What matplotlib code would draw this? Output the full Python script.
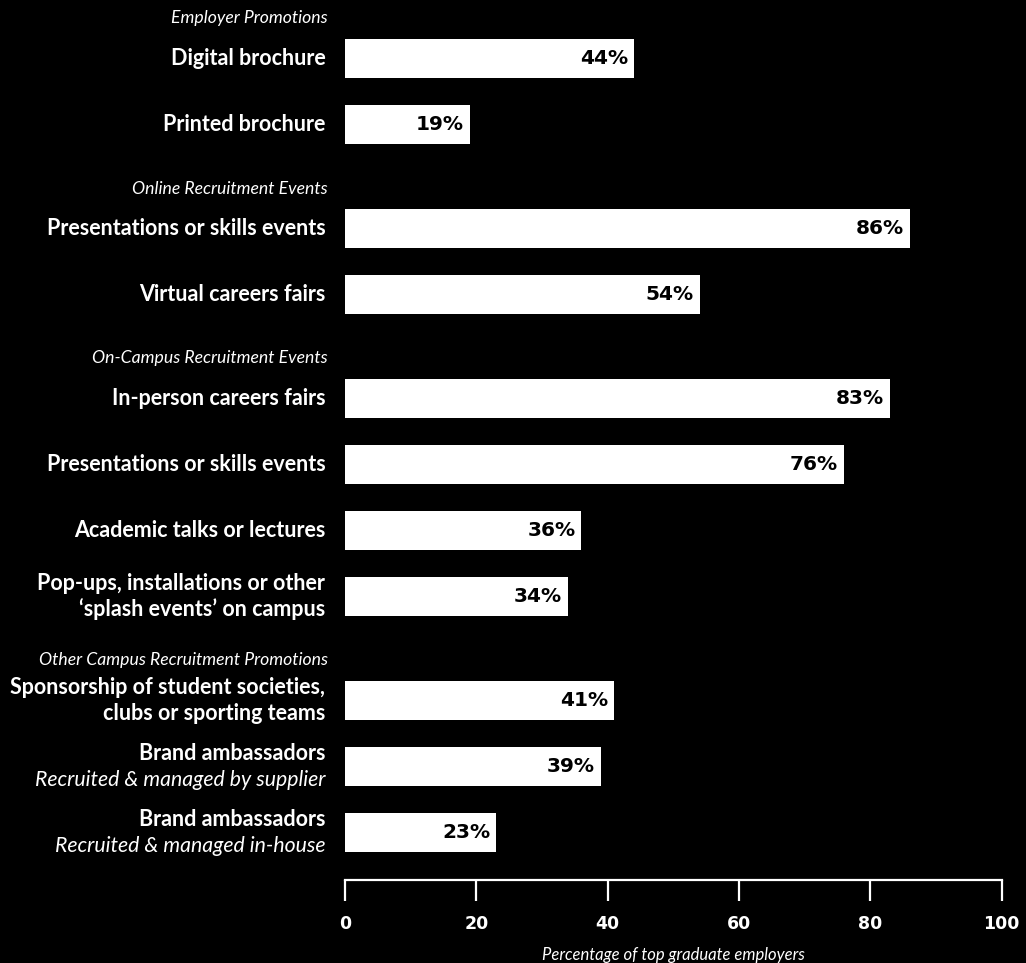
import matplotlib.pyplot as plt

# survey results, % of top graduate employers
groups = [
    "Employer Promotions",
    "Online Recruitment Events",
    "On-Campus Recruitment Events",
    "Other Campus Recruitment Promotions",
]
labels = [
    ["Digital brochure", "Printed brochure"],
    ["Presentations or skills events", "Virtual careers fairs"],
    ["In-person careers fairs", "Presentations or skills events",
     "Academic talks or lectures",
     "Pop-ups, installations or other\n\u2018splash events\u2019 on campus"],
    ["Sponsorship of student societies,\nclubs or sporting teams",
     "Brand ambassadors", "Brand ambassadors"],
]
sublabels = [
    [None, None],
    [None, None],
    [None, None, None, None],
    [None, "Recruited & managed by supplier", "Recruited & managed in-house"],
]
values = [
    [44, 19],
    [86, 54],
    [83, 76, 36, 34],
    [41, 39, 23],
]
xticks = [0, 20, 40, 60, 80, 100]

FONT = "Lato"
BG = "black"
FG = "white"
LAB_SIZE = 15.5

fig = plt.figure(figsize=(10.26, 9.63), dpi=100, facecolor=BG)
ax = fig.add_axes([345 / 1026, 0, 656.5 / 1026, 1])
ax.set_facecolor(BG)
ax.set_xlim(0, 100)
ax.set_ylim(963, 0)  # y runs top-down in pixel-like units


def label(x, y, s, italic=False):
    if italic:
        ax.text(x, y, s, ha="right", va="center", color=FG, fontsize=15.3,
                fontstyle="italic", family=FONT)
    else:
        ax.text(x, y, s, ha="right", va="center", color=FG, fontsize=LAB_SIZE,
                fontweight="bold", family=FONT)


step, gap, bar_h = 66, 104, 39
y = 58.5
for g, head in enumerate(groups):
    ax.text(-2.6, y - 40, head, ha="right", va="center", color=FG, fontsize=12.7,
            fontstyle="italic", family=FONT)
    for i, (lab, sub, v) in enumerate(zip(labels[g], sublabels[g], values[g])):
        ax.barh(y, v, height=bar_h, color=FG, edgecolor="none")
        ax.text(v - 0.9, y, f"{v}%", ha="right", va="center", color="black",
                fontsize=14.5, fontweight="bold", family="DejaVu Sans")
        lines = lab.split("\n")
        if sub is not None:
            label(-3, y - 13, lines[0])
            label(-3, y + 13, sub, italic=True)
        elif len(lines) == 2:
            label(-3, y - 13, lines[0])
            label(-3, y + 13, lines[1])
        else:
            label(-3, y, lab)
        if i < len(values[g]) - 1:
            y += step
    y += gap

# bottom axis
for s in ["top", "left", "right"]:
    ax.spines[s].set_visible(False)
ax.spines["bottom"].set_position(("data", 880))
ax.spines["bottom"].set_color(FG)
ax.spines["bottom"].set_linewidth(1.6)
ax.set_yticks([])
ax.set_xticks(xticks)
ax.set_xticklabels([str(t) for t in xticks], family="DejaVu Sans",
                   fontweight="bold", fontsize=12.5, color=FG)
ax.tick_params(axis="x", direction="out", length=15, width=1.6, color=FG, pad=10)
ax.text(50, 955, "Percentage of top graduate employers", ha="center", va="center",
        color=FG, fontsize=12, fontstyle="italic", family=FONT)

fig.savefig("out.png", dpi=100, facecolor=BG)
